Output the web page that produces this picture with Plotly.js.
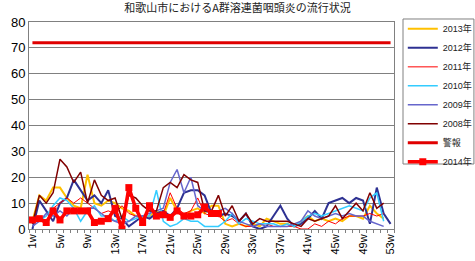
<!DOCTYPE html>
<html><head><meta charset="utf-8">
<script src="https://cdn.plot.ly/plotly-3.0.1.min.js"></script>
<style>html,body{margin:0;padding:0;background:#fff}#chart{width:475px;height:261px}</style>
</head><body><div id="chart"></div>
<script>
const weeks = ['1w','2w','3w','4w','5w','6w','7w','8w','9w','10w','11w','12w','13w','14w','15w','16w','17w','18w','19w','20w','21w','22w','23w','24w','25w','26w','27w','28w','29w','30w','31w','32w','33w','34w','35w','36w','37w','38w','39w','40w','41w','42w','43w','44w','45w','46w','47w','48w','49w','50w','51w','52w','53w'];
const shownLabels = ['1w','5w','9w','13w','17w','21w','25w','29w','33w','37w','41w','45w','49w','53w'];

const y2013 = [3,13,11,16,16,12,9,8,21,10,9,11,10,8,7,5,4,5,7,5,12,7,5,7,8,6,9,9,2,1,2,1,2,1,4,3,2,2,1,3,5,3,4,3,4,3,5,5,4,9,6,4,null];
const y2012 = [0,11,7,3,10,12,19,15,11,13,10,15,5,4,1,3,5,4,6,7,5,8,14,15,15,13,6,5,6,5,3,6,1,0,1,5,9,4,1,2,4,7,4,10,11,12,10,12,11,2,16,6,2];
const y2011 = [3,4,5,8,10,12,10,12,10,8,6,7,6,9,6,5,4,8,5,6,14,8,6,7,12,6,5,5,3,4,2,1,1,2,2,1,1,1,1,0,0,2,1,3,2,4,5,5,5,6,5,6,null];
const y2010 = [4,3,5,9,12,11,8,3,7,9,5,5,3,5,3,4,5,5,15,3,1,2,4,3,3,1,1,1,3,6,2,4,3,2,2,2,1,2,1,3,5,6,5,6,7,8,9,8,7,12,14,3,null];
const y2009 = [1,3,6,5,7,5,8,7,8,8,6,4,3,2,3,5,5,6,7,8,18,23,14,20,9,7,6,7,8,6,3,2,1,2,1,1,1,1,2,3,7,5,4,5,6,5,6,5,5,3,2,1,null];
const y2008 = [2,13,10,14,27,24,18,22,10,19,13,11,12,4,13,12,9,7,7,16,18,16,21,19,18,7,7,13,5,9,3,6,2,4,3,3,3,3,2,1,4,3,4,5,9,4,7,10,7,14,8,10,null];
const alarm = [72,72,72,72,72,72,72,72,72,72,72,72,72,72,72,72,72,72,72,72,72,72,72,72,72,72,72,72,72,72,72,72,72,72,72,72,72,72,72,72,72,72,72,72,72,72,72,72,72,72,72,72,72];
const y2014 = [3.5,4,2.5,7,3.5,7,7,7,7,2.5,3,4,8,0,16,8,2.5,9,5,5.5,4.5,7,5,5,5.5,8.5,6,6];

const seriesNames = ['2013年','2012年','2011年','2010年','2009年','2008年','警報','2014年'];
const seriesData = [y2013,y2012,y2011,y2010,y2009,y2008,alarm,y2014];
const colors = ['#FFC000','#2E3192','#FF0000','#33CCFF','#6666CC','#800000','#E00000','#FF0000'];
const widths = [2,2,1,1.5,1.5,1.5,3,3.5];

const traces = seriesNames.map((n,i)=>({
  x: weeks.slice(0, seriesData[i].length),
  y: seriesData[i],
  name: n,
  type: 'scatter',
  mode: n==='2014年' ? 'lines+markers' : 'lines',
  line: {color: colors[i], width: widths[i]},
  marker: {symbol:'square', size:7, color: colors[i]},
  connectgaps: false
}));

const layout = {
  width: 475, height: 261,
  margin: {l:29, r:81, t:22, b:32},
  paper_bgcolor: '#fff', plot_bgcolor: '#fff',
  font: {family: '"Liberation Sans", Arial, sans-serif', color:'#000'},
  title: {text: '和歌山市におけるA群溶連菌咽頭炎の流行状況', font:{family:'"Noto Sans CJK JP", sans-serif', size:11, color:'#222'}, x:0.5, xref:'container', y:0.985, yanchor:'top'},
  xaxis: {
    type:'category', categoryorder:'array', categoryarray: weeks,
    range:[-0.5, 52.5],
    tickvals: weeks,
    ticktext: weeks.map(w => shownLabels.includes(w) ? w : ''),
    tickangle: -90, tickfont:{size:11},
    ticks:'outside', ticklen:3, tickcolor:'#808080', tickson:'boundaries',
    showgrid:false, showline:true, linecolor:'#808080', linewidth:1, mirror:true,
    zeroline:false, automargin:false
  },
  yaxis: {
    range:[0,80], tickvals:[0,10,20,30,40,50,60,70,80],
    tickfont:{size:13}, showgrid:true, gridcolor:'#808080', gridwidth:1,
    showline:true, linecolor:'#808080', linewidth:1, mirror:true,
    zeroline:false, ticks:'', automargin:false
  },
  shapes: [{
    type:'rect', xref:'paper', yref:'paper', layer:'below',
    x0:1.0247, x1:1.219, y0:0.314, y1:1.0145,
    line:{color:'#808080', width:1}, fillcolor:'#ffffff'
  }],
  legend: {
    xref:'container', yref:'container',
    x:0.848, y:0.945, xanchor:'left', yanchor:'top',
    bgcolor:'rgba(0,0,0,0)', borderwidth:0,
    font:{family:'"Liberation Sans", "Noto Sans CJK JP", sans-serif', size:9, color:'#222'},
    tracegroupgap:0, itemwidth:30, maxheight:170
  },
  showlegend: true
};

Plotly.newPlot('chart', traces, layout, {staticPlot:true, displayModeBar:false});
</script>
</body></html>
